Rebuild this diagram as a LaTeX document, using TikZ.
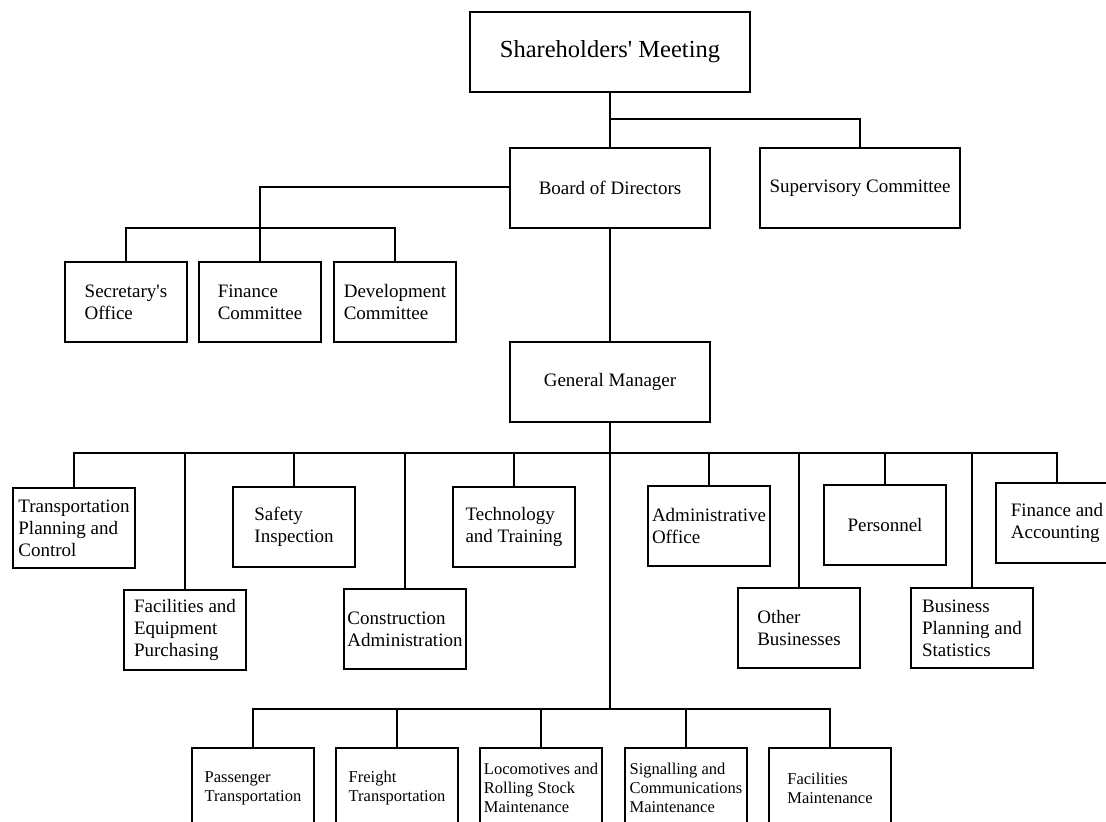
\documentclass[tikz,border=0pt]{standalone}
\usepackage{fontspec}
\setmainfont{Liberation Serif}[Ligatures=TeXOff]
\newcommand\fbig{\fontsize{24.5}{28}\selectfont}
\newcommand\fmid{\fontsize{19}{22}\selectfont}
\newcommand\fsml{\fontsize{16.5}{19}\selectfont}
\tikzset{
  box/.style={draw, line width=1.8pt, inner sep=0pt, align=left, font=\fmid},
  bbox/.style={box, font=\fsml},
  conn/.style={line width=1.5pt},
  sz/.style 2 args={minimum width=#1pt, minimum height=#2pt}
}
\begin{document}
\begin{tikzpicture}[x=1pt, y=-1pt]
\useasboundingbox (0,0) rectangle (1106,822);
\clip (0,0) rectangle (1106,822);
\fill[white] (0,0) rectangle (1106,822);
% top levels
\node[box, font=\fbig, sz={280}{80}] (sh) at (610,52) {Shareholders' Meeting};
\node[box, sz={200}{80}] (board) at (610,188) {Board of Directors};
\node[box, sz={200}{80}] (sup) at (860,188) {Supervisory Committee};
\node[box, sz={122}{80}] (sec) at (126,302) {Secretary's\\Office};
\node[box, sz={122}{80}] (fin) at (260,302) {Finance\\Committee};
\node[box, sz={122}{80}] (dev) at (395,302) {Development\\Committee};
\node[box, sz={200}{80}] (gm) at (610,382) {General Manager};
% departments
\node[box, sz={122}{80}] (tpc) at (74,528) {Transportation\\Planning and\\Control};
\node[box, sz={122}{80}] (fep) at (185,630) {Facilities and\\Equipment\\Purchasing};
\node[box, sz={122}{80}] (safe) at (294,527) {Safety\\Inspection};
\node[box, sz={122}{80}] (cons) at (405,629) {Construction\\Administration};
\node[box, sz={122}{80}] (tech) at (514,527) {Technology\\and Training};
\node[box, sz={122}{80}] (adm) at (709,526) {Administrative\\Office};
\node[box, sz={122}{80}] (oth) at (799,628) {Other\\Businesses};
\node[box, sz={122}{80}] (pers) at (885,525) {Personnel};
\node[box, sz={122}{80}] (bps) at (972,628) {Business\\Planning and\\Statistics};
\node[box, sz={122}{80}] (fa) at (1057,523) {Finance and\\Accounting};
% bottom row
\node[bbox, sz={122}{80}] (pass) at (253,788) {Passenger\\Transportation};
\node[bbox, sz={122}{80}] (frei) at (397,788) {Freight\\Transportation};
\node[bbox, sz={122}{80}] (loco) at (541,788) {Locomotives and\\Rolling Stock\\Maintenance};
\node[bbox, sz={122}{80}] (sig) at (686,788) {Signalling and\\Communications\\Maintenance};
\node[bbox, sz={122}{80}] (fm) at (830,788) {Facilities\\Maintenance};
% junction levels
\coordinate (j1) at (610,119);
\coordinate (cb) at (0,228);
\coordinate (gb) at (0,453);
\coordinate (bb) at (0,709);
\coordinate (bl) at (0,187);
% connectors
\draw[conn] (sh.south) -- (board.north);
\draw[conn] (j1) -| (sup.north);
\draw[conn] (board.west |- bl) -| (fin.north);
\draw[conn] (sec.north) -- (sec.north |- cb) -- (dev.north |- cb) -- (dev.north);
\draw[conn] (board.south) -- (gm.north);
\draw[conn] (gm.south) -- (gm.south |- bb);
\draw[conn] (tpc.north) -- (tpc.north |- gb) -- (fa.north |- gb) -- (fa.north);
\foreach \n in {fep,safe,cons,tech,adm,oth,pers,bps}
  \draw[conn] (\n.north) -- (\n.north |- gb);
\draw[conn] (pass.north) -- (pass.north |- bb) -- (fm.north |- bb) -- (fm.north);
\foreach \n in {frei,loco,sig}
  \draw[conn] (\n.north) -- (\n.north |- bb);
\end{tikzpicture}
\end{document}
